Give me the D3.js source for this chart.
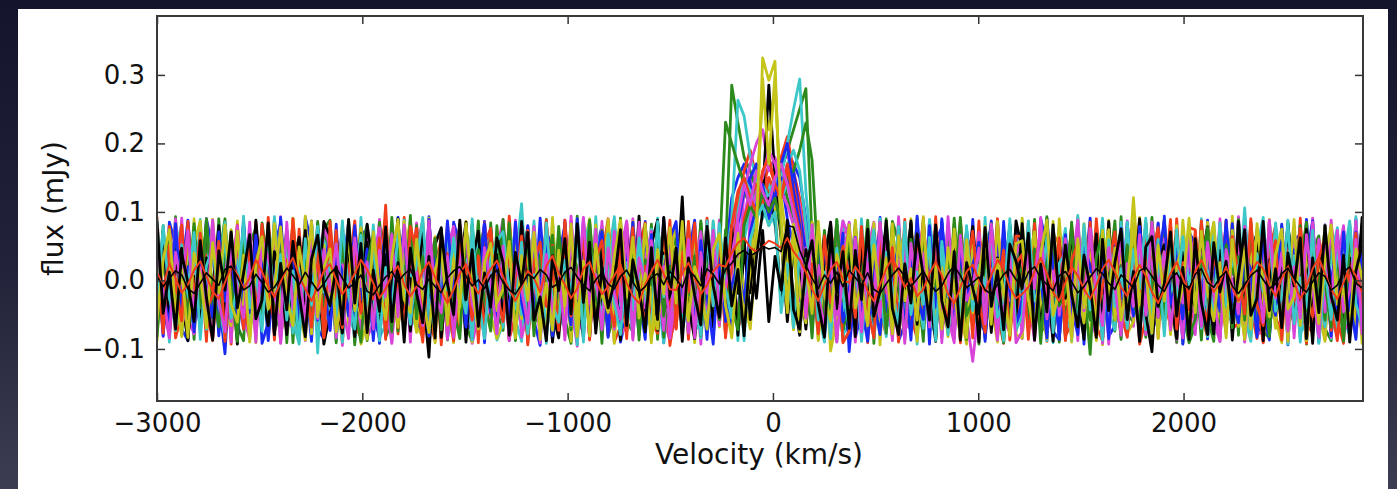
<!DOCTYPE html>
<html>
<head>
<meta charset="utf-8">
<script src="https://cdn.jsdelivr.net/npm/d3@7"></script>
<style>
  html, body { margin: 0; padding: 0; background: #1b1b33; overflow: hidden; }
  svg { display: block; }
</style>
</head>
<body>
<svg id="chart" width="1397" height="489"></svg>
<script>
// Channel grid of the spectra (km/s)
const velocityStart = -3000;
const channelWidth = 30.1;

const xTicks = [-3000, -2000, -1000, 0, 1000, 2000];
const yTicks = [-0.1, 0.0, 0.1, 0.2, 0.3];

// Flux per channel, in µJy (196 channels each, 28 per row)
const fluxB1 = [
45,-32,71,-58,12,88,-14,-67,23,54,-81,6,39,-45,82,-19,-73,30,61,-8,-52,17,76,-36,4,-89,58,-21,
63,-47,9,85,-62,28,-5,-78,44,15,-33,92,-56,21,-11,67,-84,38,3,-41,74,-27,51,-69,11,86,-38,-2,
57,-74,33,-16,79,-49,8,41,-88,26,64,-12,-55,90,-31,18,-63,47,-7,72,-44,13,-79,59,-24,36,-91,68,
-40,28,73,-51,16,-86,44,-22,35,120,150,170,140,120,130,110,140,160,190,170,150,90,40,-18,62,-47,81,-9,
-15,82,-53,29,-70,6,48,-36,77,-9,-61,94,-27,19,55,-83,37,-4,66,-46,25,-72,10,87,-35,50,-58,3,
54,-66,22,-39,91,-13,-75,47,8,-58,69,-30,14,-87,39,-6,76,-49,25,-64,58,-17,84,-42,7,-71,33,65,
-28,49,-85,18,70,-37,2,-60,93,-24,41,-77,11,56,-46,80,-19,-68,34,87,-53,21,-8,67,-82,29,-35,74];

const fluxG1 = [
-23,61,-77,35,8,-49,83,-14,52,-66,27,90,-38,-5,71,-57,19,43,-84,31,-12,64,-29,-73,56,3,-45,78,
26,-91,47,-8,68,-33,15,-60,85,-22,39,-74,50,11,-43,76,-18,62,-87,24,-3,58,-36,81,-53,9,44,-69,
37,-15,-62,89,-28,53,-80,18,66,-41,5,-72,94,-34,29,-56,73,-10,48,-83,22,-47,60,13,-65,86,-20,-39,
42,-63,20,-37,84,-11,-56,31,40,285,230,180,160,130,150,120,140,160,190,220,250,280,60,-42,73,-26,51,-88,
74,-44,6,-78,57,21,-52,83,-31,40,-67,12,-89,65,-7,36,-58,91,-25,-70,49,16,-85,55,-2,-48,79,-30,
-19,70,-45,8,93,-61,27,-84,45,-14,59,-32,76,-50,3,87,-68,34,-9,-76,52,25,-54,68,-22,-90,41,14,
66,-27,-81,48,-4,32,-59,89,-46,21,-71,57,-13,-38,80,-63,10,46,-93,28,-17,72,-40,35,-64,19,-7,53];

const fluxR1 = [
12,-58,79,-26,43,-71,5,67,-39,-88,24,56,-15,81,-48,30,-6,-64,92,-33,18,-77,49,27,-53,70,-11,-42,
86,-20,-60,37,-3,75,-47,10,-83,52,33,-69,16,62,-25,-90,45,7,-56,83,-36,29,-12,68,-79,40,-51,22,
-66,94,-30,15,-49,63,-8,-37,51,-74,88,-21,-2,46,73,-43,26,-81,11,-59,84,-16,38,-70,57,-28,9,-95,
-35,58,-9,71,-52,20,-78,39,-17,28,110,160,190,150,130,170,140,180,210,160,120,60,-24,47,-69,15,82,-38,
50,-13,32,-87,69,-41,24,-54,78,-7,-63,19,85,-32,44,-75,61,-18,-50,35,-84,67,4,-27,90,-46,13,-61,
17,-64,83,-41,6,-22,55,-88,31,-5,72,-47,90,-19,60,-36,-73,25,49,-10,-57,38,77,-29,-66,14,51,-83,
-4,43,-70,28,-31,86,-55,9,62,-40,-85,34,-16,74,-28,19,-61,50,-92,67,-14,-49,81,2,-33,58,-75,26];

const fluxC1 = [
-52,27,64,-18,-79,41,9,73,-35,-60,17,85,-44,30,-8,-71,53,22,-47,90,-26,46,-63,11,-38,69,-106,58,
34,-82,15,60,-29,-5,77,-56,39,-13,-73,88,-40,24,62,-20,-87,45,-2,71,-50,19,-66,83,-31,8,56,-77,
81,-45,28,112,-37,-64,16,50,-86,37,-11,70,-52,3,-34,66,-78,29,93,-23,-59,44,7,-48,75,-18,-91,36,
55,-28,-71,39,10,-47,87,-13,24,90,263,240,180,150,120,140,110,150,200,250,294,130,30,-58,21,66,-35,-80,
-62,20,55,-30,-84,47,12,-26,79,-57,33,-3,-70,86,21,-43,64,-15,-80,38,57,-11,-74,49,25,-53,82,-6,
-21,67,-39,4,-88,52,31,76,-54,12,-68,41,-7,91,-45,23,-83,61,-16,48,-72,85,-37,-1,59,-62,26,-43,
39,-76,18,84,-50,-12,63,-33,8,-65,47,92,-27,-58,70,-41,30,-85,15,54,-19,-68,36,77,-44,-9,61,-30];

const fluxM1 = [
71,-36,-84,22,58,-47,13,-69,90,-24,37,-58,6,80,-41,27,-77,63,-10,44,-92,15,58,-32,-70,86,-19,40,
-55,11,74,-43,29,-81,62,-7,-36,53,-90,20,67,-25,84,-49,9,-64,36,-14,79,-58,25,-83,48,3,-40,69,
23,-60,88,-20,-45,70,-9,44,-79,27,61,-33,-96,52,-12,75,-50,18,-71,40,87,-26,-63,31,72,-48,10,-85,
-16,81,-57,26,-93,49,14,65,-31,-52,10,130,170,200,220,160,180,140,170,150,110,50,-38,74,-15,-60,33,87,
60,-17,-73,46,85,-39,-2,-88,55,-21,34,-62,79,-13,48,-91,66,-27,11,-54,-118,-35,20,-68,57,-4,-78,42,
33,-72,5,58,-26,-84,71,-45,19,88,-61,37,-8,-77,52,-23,66,-40,-5,83,-12,29,-54,61,-19,-86,45,12,
-79,46,-11,-67,90,-34,24,57,-88,30,-6,73,-52,16,-30,61,-74,39,-17,85,-46,8,-62,27,80,-39,-23,54];

const fluxY1 = [
-44,19,66,-73,35,-8,52,87,-29,-61,40,-16,74,-50,26,-85,58,3,-37,69,-22,-64,91,-12,47,-78,30,-3,
58,-25,-89,42,-6,77,-34,13,-70,55,29,-53,86,-19,-76,38,-4,64,-42,17,-91,50,-28,73,-59,21,-11,66,
-37,82,-14,-56,27,61,-80,35,-3,-48,79,-66,18,43,90,-31,-72,54,-20,9,-58,76,-45,24,-87,60,-10,38,
80,-18,-47,63,-35,7,-77,26,54,-62,31,-20,48,90,120,80,110,-36,58,-71,22,-49,85,-14,43,-103,-57,16,
12,-65,49,-29,84,-52,21,-74,36,67,-15,-43,93,-60,28,-9,-82,57,-26,71,-47,5,63,-34,-90,41,18,-69,
-53,29,71,-40,-85,46,10,62,-27,-69,83,-11,35,-94,44,-58,19,-20,121,-7,61,-82,37,-22,54,-63,88,-16,
23,-47,85,-19,-61,39,70,-34,-80,16,52,-44,27,-12,67,-89,41,-25,41,-53,8,74,-38,-66,30,59,-21,-79];

const fluxK1 = [
38,-70,14,59,-27,-88,46,-9,81,-43,20,-64,67,-31,5,-52,88,-17,42,-79,24,61,-36,-8,73,-55,17,-93,
-47,64,-21,35,-82,10,56,-68,27,90,-39,-5,48,-74,33,-15,-112,52,77,-30,-59,19,85,-46,-2,68,-24,41,
72,-33,-58,86,-12,29,-66,47,-90,15,-41,63,-7,-84,55,30,-49,78,-26,-63,12,-38,94,-55,21,-73,40,-17,
-25,122,-64,40,-11,67,-49,9,-33,55,-80,44,-18,90,120,285,150,60,-60,48,19,-71,36,-9,63,-44,82,-27,
-81,25,43,-62,70,-35,-6,58,-47,11,84,-72,36,-20,-89,66,-14,45,-53,8,79,-29,50,-76,31,-3,-65,87,
44,-16,-78,27,61,-52,3,-37,74,-25,-86,50,13,-61,86,-42,20,-69,35,-10,57,-83,16,49,-31,72,-56,-4,
-60,31,78,-45,-18,64,-87,22,-53,40,69,-28,-75,11,-36,83,-7,-58,26,-92,47,14,-70,59,-13,37,-49,92];

const fluxB2 = [
29,-81,50,-12,-66,84,-38,17,-55,73,-27,-107,45,8,-71,62,-19,36,-88,21,55,-44,80,-33,-2,67,-58,12,
70,-39,-6,83,-60,25,-17,51,-92,38,-48,14,77,-29,6,-64,89,-23,41,-76,30,-12,56,-85,63,-40,19,-53,
-31,48,-75,10,62,-44,91,-20,-58,33,81,-35,4,-70,58,-16,27,-83,66,-49,-8,85,-27,-61,44,9,-77,39,
14,-73,36,88,-54,-9,61,-42,20,-67,80,130,150,170,120,100,130,150,140,160,100,40,-31,57,-81,23,-14,69,
-104,-6,-48,71,-30,-79,24,66,-42,13,-87,55,-21,38,-64,90,-33,18,-57,74,-11,42,-89,27,60,-45,5,-68,
-34,35,-57,79,-19,46,-86,27,62,-40,-4,91,-63,17,-28,53,-72,84,-11,-47,30,73,-36,8,-59,44,-93,21,
48,-24,66,-71,12,-39,83,-56,30,-10,75,-48,-87,59,24,-66,45,-30,89,-18,-52,36,-81,62,-5,-44,70,-28];

const fluxG2 = [
-67,42,-19,77,-50,8,63,-33,90,-58,26,-81,39,-4,55,-26,-69,84,17,-43,70,-91,31,-14,52,-62,86,-37,
21,-76,58,-35,4,69,-88,43,-18,-61,92,-27,35,-53,80,-40,12,-74,57,-9,26,64,-50,-22,87,-68,15,-31,
89,-14,-52,31,-86,60,-23,7,49,-71,16,-38,82,-64,-5,37,-92,68,-29,53,-76,22,-44,79,-17,61,-83,4,
61,-45,17,-83,48,-2,-60,34,231,200,170,140,120,130,110,120,140,130,150,160,190,230,176,20,-55,81,-29,-72,
-38,75,-9,-64,27,-47,90,-21,56,-80,40,-13,-58,73,11,-35,81,-52,29,-86,46,-70,18,64,-26,-91,37,53,
-18,70,-43,13,-77,54,29,-62,85,-30,-7,-108,39,60,37,-56,22,-81,73,-15,-40,92,-24,-66,41,8,-52,75,
30,-87,52,-25,66,-11,-69,43,16,-76,59,-38,34,-48,71,-32,-63,25,85,-46,10,-58,77,-21,-83,49,-7,38];

const fluxR2 = [
53,-29,-74,16,81,-46,4,-62,37,-13,70,-89,24,59,-35,-78,47,10,-57,88,-20,31,-66,75,-41,-8,63,-84,
-26,68,-52,13,87,-37,-70,45,-22,110,-80,32,-59,18,76,-43,-5,61,-94,39,-16,-73,50,26,-60,84,-34,7,
42,-88,19,-46,73,-3,-58,86,-31,-69,48,11,-77,64,-19,-52,33,90,-41,20,-85,57,-12,-65,38,-30,79,-48,
19,-50,86,-27,-63,41,-11,70,-84,32,-15,90,120,140,110,150,130,120,160,140,90,-23,58,-72,14,-39,66,-91,
-74,16,61,-33,-7,84,-56,28,-90,45,-18,67,-40,-2,52,-70,12,-47,88,-25,35,-61,74,-9,-83,40,-28,65,
64,-35,-80,22,51,-67,36,-9,78,-56,-21,43,-85,11,67,-30,-74,55,-13,89,-46,-3,32,-69,81,-24,47,-58,
-45,87,-16,-60,30,71,-38,12,-64,54,-27,-91,43,80,-55,21,-36,68,-82,4,59,26,-73,39,-17,63,-52,18];

const fluxC2 = [
88,-41,7,-73,52,-25,33,-57,14,79,-36,-84,61,-10,40,-68,25,-3,-50,93,-29,65,-77,18,-45,84,-15,-62,
-34,53,-90,27,-12,66,-48,81,-23,-57,35,72,-64,9,-30,58,-81,44,-6,-73,62,-19,31,-87,70,-40,12,55,
-68,25,73,-50,-18,87,-31,4,-76,60,-43,29,-94,47,83,-26,-59,16,70,-37,-11,-80,49,-22,67,-56,35,-7,
-52,38,-15,69,-84,26,58,-37,12,-48,100,150,130,110,140,120,150,130,170,190,160,80,-10,-61,43,-26,88,-44,
27,-60,90,-38,55,-19,-82,46,11,-53,74,-28,-66,89,-14,42,-79,23,-48,63,-35,8,-71,57,-30,-88,76,-20,
71,-9,-66,34,-41,80,-24,57,-87,19,-52,66,4,-73,-20,48,-61,85,-33,-2,39,-78,60,-14,-47,74,-28,51,
-15,59,-82,43,-5,-63,33,-28,106,-39,-67,22,-48,84,10,-57,36,-90,53,-21,-44,64,-11,-76,29,87,-35,-60];

const fluxM2 = [
-12,66,-45,90,-33,-71,28,54,-18,-83,41,9,-60,75,-27,85,-52,13,-38,67,-91,20,48,-74,36,-15,-56,81,
47,-84,23,-8,64,-41,-69,35,77,-26,-92,50,-3,61,-47,16,70,-63,31,-86,8,82,-22,-58,43,-77,27,-6,
-59,30,-12,78,-47,19,-86,63,-34,5,-70,88,-21,42,-80,56,-9,-45,72,-31,14,-64,85,-40,26,-2,-73,57,
-31,54,-77,8,71,-42,25,-66,39,-21,86,-55,90,130,150,190,170,130,110,80,-30,47,-68,22,-14,79,-50,33,
85,-27,-63,40,12,-54,69,-16,-79,52,-37,23,81,-48,6,-71,93,-24,-58,34,-13,70,-43,17,-87,61,-29,38,
62,-19,-88,45,-26,73,-51,18,-64,81,-38,-7,56,-92,40,-15,67,-76,28,-49,85,-33,10,-59,74,-21,-84,49,
-73,41,9,-56,83,-17,-40,65,-90,28,-11,52,-67,19,-38,74,-84,47,3,-29,60,-46,88,-25,-62,35,11,-78];

const fluxY2 = [
76,-53,30,-19,-82,61,-7,43,-66,89,-24,15,-48,72,-36,4,-77,56,-29,83,-58,11,67,-42,-87,38,-16,52,
-21,45,-70,88,-13,-55,31,-80,60,-35,17,-68,46,84,-9,-52,28,-91,64,-18,39,-62,79,-31,6,-76,57,-44,
33,-67,58,-4,-39,76,-86,21,-14,67,-57,35,-82,10,71,-42,-19,89,-63,44,-27,16,-50,82,-35,-71,23,62,
41,-18,-59,77,-36,24,-83,55,-6,-44,69,-27,-71,50,325,292,320,60,-47,82,-15,-62,35,-88,19,57,-30,8,
-48,88,-25,-73,49,6,-61,83,-30,-12,58,-89,27,44,-67,19,-46,75,-20,-84,51,38,-8,-64,86,-33,13,-79,
-84,27,66,-49,12,-73,90,-35,58,-17,-62,40,-88,26,74,-56,9,-31,83,-42,-7,61,-27,45,-79,20,54,-68,
17,-61,42,85,-28,-50,73,-12,-86,31,64,-45,8,-70,53,-23,89,-66,37,-9,-54,80,-37,14,-48,70,-83,29];

const fluxK2 = [
-30,72,-58,19,47,-85,6,-64,33,-20,80,-51,26,-93,58,-38,71,-14,-66,42,11,-79,24,63,-48,7,-31,86,
64,-29,-77,49,-8,-45,82,20,-61,37,-16,90,-72,3,-43,76,-25,57,-83,12,-35,49,-90,28,72,-57,-12,38,
-55,16,-40,81,-69,30,-3,66,-47,-84,24,59,-26,71,-10,-63,45,-36,21,-87,65,3,-34,-70,52,88,-45,-21,
-7,59,-36,-85,22,47,-68,29,-42,80,-19,62,-57,34,100,120,90,-33,71,-24,-80,45,-9,-63,28,85,-41,15,
40,-82,67,-15,-46,28,74,-53,9,-31,87,-64,35,-19,77,-48,-2,-75,56,-28,18,-90,63,-40,33,-12,81,-55,
83,-44,24,-67,10,-89,56,-26,73,-55,32,-11,68,-81,37,-6,-72,49,-30,90,-49,-104,34,52,-25,-85,41,-14,
-39,66,-13,-78,44,21,-59,86,-32,-9,57,-88,30,-47,12,69,-53,-18,75,-40,28,44,-50,-27,-67,33,-4,79];

const fluxB3 = [
51,-17,-66,83,-42,20,-75,36,-9,-54,71,-30,58,-85,14,-47,66,-21,39,-70,92,-26,45,-60,10,-37,75,-5,
-73,37,12,-52,80,-28,46,-88,21,64,-43,-6,73,-62,30,-16,-81,55,-39,87,-24,6,-68,41,-19,83,-47,22,
18,-56,85,-33,-74,44,-12,59,-81,27,-3,-65,90,-37,-52,24,71,-40,-8,-77,49,33,-24,-86,67,-48,15,60,
86,-40,20,-65,58,-22,-93,43,-60,-8,25,-34,70,110,140,90,120,170,200,130,80,-44,19,-73,53,-15,37,-61,
-20,63,-37,-89,32,71,-46,4,52,-70,38,-24,-57,80,-39,85,-13,-60,45,-31,23,56,-82,9,-43,74,-16,-67,
-28,75,-50,7,-84,39,-15,67,-41,-79,50,22,-61,34,-85,60,-26,13,-52,79,-8,-69,28,88,-35,-3,-56,70,
54,-13,-70,30,-45,88,-24,-62,41,15,-83,66,-20,-51,82,-36,-5,61,-77,25,-90,40,8,-57,71,-29,-86,46];

const fluxG3 = [
-82,34,61,-27,9,-53,77,-40,85,-15,-68,46,-3,-89,62,-33,20,-59,81,-45,16,73,-22,-80,38,-64,27,-11,
43,-8,-61,76,-39,-90,24,67,-47,10,-75,53,-28,88,-56,35,-19,61,-72,7,-42,-85,62,-7,45,-31,-74,80,
-25,84,-48,13,56,-81,37,-10,-66,79,-31,48,17,-55,88,-24,-70,42,-12,66,-39,55,-87,30,-6,73,-52,21,
-48,71,-23,36,-80,14,64,-57,27,-39,-72,80,110,90,130,100,120,80,-21,55,-66,32,-84,70,-13,-47,89,-30,
67,-35,-14,88,-58,40,-77,29,-9,-86,60,-25,69,-44,7,-67,34,-18,92,-51,-28,48,-72,83,-35,17,-60,4,
19,-63,46,-92,28,63,-37,-16,80,-49,21,-58,34,71,-44,10,-86,52,-27,-65,84,-21,41,-54,76,-38,6,-80,
-57,23,77,-40,-71,52,9,35,-58,86,-26,12,-82,47,-64,29,-17,80,-45,61,-33,-4,-68,44,-89,58,15,-36];

const fluxR3 = [
24,-77,52,-8,-59,86,-30,69,-43,-22,57,-85,33,4,-71,48,-38,82,-14,-62,29,-47,90,-25,12,-68,40,-83,
78,-31,-69,18,55,-48,-4,-27,62,-86,45,-12,-61,79,40,-79,22,-5,68,-34,-88,53,14,-58,36,-81,71,-19,
-60,41,-10,65,-92,27,56,-38,17,-73,84,-52,-1,63,-83,30,58,-26,-67,49,-15,77,-45,21,-72,35,-9,88,
-69,42,-17,84,-48,11,-36,57,-26,80,130,150,120,100,160,180,140,120,170,110,70,-52,24,-78,65,-33,-7,50,
9,-54,79,-41,-84,63,-18,48,-70,24,-2,-56,90,-34,66,-20,-63,37,-91,14,72,-29,-76,53,-12,44,-87,25,
38,-86,17,73,-40,-15,62,-79,29,54,-33,85,-57,-8,20,71,-48,-83,36,-22,59,-64,47,-10,89,-71,26,-43,
72,-25,-61,39,-11,-77,64,7,-49,90,-35,-66,22,58,-87,43,-30,76,-19,-53,32,61,-40,-88,27,-2,69,-56];

const fluxC3 = [
-41,80,-26,-63,35,-12,70,-86,21,48,-30,67,-55,-9,83,-40,12,-74,55,-23,38,-58,14,-89,61,-36,79,-17,
28,-57,87,-20,-71,44,-33,58,-88,19,-45,73,-6,-64,25,92,-37,-67,40,-14,60,-8,-48,75,-29,-85,33,57,
71,-14,-42,56,-78,8,-52,84,-36,-61,30,-19,75,-90,46,-5,-55,68,-31,-79,26,-43,62,-16,-71,86,-24,11,
15,-62,48,-25,-79,66,-37,83,-11,-55,30,-88,60,90,110,80,100,-47,24,-69,41,-30,75,-58,12,-85,47,-21,
-66,33,-89,18,74,-27,41,-13,-67,85,-50,12,-35,63,-88,57,-22,30,-61,80,-44,22,-9,67,-54,-31,90,-73,
-52,87,-30,-9,63,-76,25,40,-19,-64,82,-43,6,-87,59,-38,17,-70,45,-12,91,-56,29,-81,50,-24,64,-6,
33,-70,13,-48,84,-35,-60,21,55,-82,39,-16,70,-45,-26,88,-63,4,-40,73,-92,18,-57,49,-20,83,-34,-66];

const fluxM3 = [
64,-23,-80,41,-7,73,-48,19,-62,88,-31,-75,50,-14,-55,26,-90,61,33,-18,-69,85,-42,6,-57,72,-28,45,
-16,53,-36,-85,62,-9,27,-71,44,-24,68,-53,81,-40,12,-66,87,-20,-47,35,-83,24,70,-35,-61,48,-4,-78,
50,-88,31,-14,-63,79,-28,38,-50,17,-81,63,-26,92,-34,9,-72,47,-19,-57,74,-87,33,-3,58,-44,21,-65,
27,-46,60,-84,41,-19,73,-42,-8,35,90,140,110,160,130,110,150,170,140,100,60,-55,81,-24,-66,39,-90,16,
-35,62,-75,26,-43,85,-10,-59,31,-92,54,-17,40,-68,79,-46,13,-83,66,-29,-8,47,-63,82,-21,-50,36,-91,
-74,39,-12,88,-56,14,-29,61,-85,33,-44,76,-20,-66,48,-9,-80,25,-38,67,-51,85,-17,42,-72,9,-33,70,
30,-67,56,-22,-89,45,-5,-49,79,-36,12,-61,88,-26,41,-74,20,-55,67,-12,-83,52,-30,73,-46,-15,60,-71];

const fluxY3 = [
-58,31,74,-47,16,-83,40,8,-69,55,-18,81,-35,-61,37,-90,23,64,-42,-11,78,-25,-66,49,-8,86,-53,19,
46,-75,-20,63,-44,27,-86,71,-12,-57,34,89,-28,-47,60,-23,-76,15,50,-65,32,-39,83,-15,-71,26,54,-33,
-13,57,-84,36,-29,70,-52,-4,-73,44,-37,82,-60,28,-81,53,-18,-47,35,88,-25,63,-55,10,-91,45,-20,77,
-33,86,-57,20,-10,-71,45,68,-37,-82,29,-55,14,80,295,170,300,90,-32,61,-75,23,-48,86,-19,-60,38,-4,
81,-40,-3,-66,52,-22,33,-78,65,-30,17,-58,90,-45,22,-71,48,-10,-85,59,-27,8,70,-52,31,-14,-80,54,
58,-29,-74,40,88,-51,-17,35,-86,61,-40,9,-64,73,-22,47,-58,-3,84,-36,14,-77,52,-30,67,-46,-10,91,
-47,72,-18,-59,26,-84,60,-31,49,-71,83,-7,-53,38,75,-42,-24,57,-88,11,-63,29,81,-35,-12,-70,46,3];

const fluxK3 = [
85,-48,12,-71,39,-3,-60,58,-25,-87,43,-14,71,-40,10,67,-56,-29,84,-78,25,-43,57,-20,-82,31,66,-9,
-37,20,-64,89,-33,54,-76,15,-45,78,-60,26,-90,47,-18,-62,35,-84,72,-5,-50,88,-28,45,-67,11,-39,62,
26,-80,41,-6,70,-58,-24,-88,36,-15,61,-49,83,-32,56,-77,19,-40,-2,74,-66,30,-13,-75,48,-57,92,-21,
47,-89,33,-22,-65,79,-8,-54,62,-37,16,-81,45,-26,73,-60,35,-14,88,-43,-71,20,58,-34,-83,67,-18,42,
-70,44,-28,75,-52,-16,87,-41,-79,24,-33,68,7,-58,81,-30,-68,42,-87,26,-11,-49,77,-38,14,-72,53,28,
-12,69,-87,24,-46,81,-30,52,-20,-68,37,-9,-83,60,-44,26,75,-57,13,-89,49,64,-38,-5,71,-52,19,-86,
61,-33,-79,55,-17,28,-62,9,74,-51,-26,86,-44,17,-69,40,-8,62,-85,33,-47,80,-23,-58,37,-90,14,50];

const fluxB4 = [
78,-64,85,52,-71,-88,59,-73,90,46,-66,81,-53,-69,87,-58,74,-92,-61,50,83,-77,48,-65,92,54,-70,-86,
-55,82,-68,41,-90,73,66,-49,-84,57,-62,89,-75,44,-58,-81,93,-47,70,-63,85,52,-79,-56,68,-91,77,-44,
63,-87,52,-74,80,-59,-95,71,48,-66,88,-53,-77,60,-85,42,79,-68,56,-90,-49,73,-61,86,-72,-45,91,-57,
-58,74,-81,66,-47,88,-70,52,-35,44,-62,80,120,100,140,110,130,150,90,50,-28,71,-55,39,-86,62,-44,83,
67,-83,-49,75,-60,92,-71,54,-88,-64,81,-46,69,-93,58,77,-52,-84,63,-70,89,-57,-76,45,-67,86,-48,72,
-80,56,-69,90,51,-74,-87,62,-45,79,-93,68,-58,47,-82,-66,84,-50,73,-89,61,-44,-71,94,-63,55,-85,70,
49,-72,88,-57,-83,64,-46,91,-68,53,-79,-61,86,-50,74,-94,59,67,-77,42,-86,81,-53,-65,76,-48,90,-60];

const fluxG4 = [
-61,80,-47,93,-72,55,-86,68,-53,-79,90,-44,71,-65,-88,52,77,-58,84,-49,-73,66,-91,58,-62,87,-54,75,
88,-52,-76,63,-94,47,81,-69,56,-83,-60,72,-48,95,-66,53,-80,-57,69,-87,41,78,-64,-90,59,-71,84,-45,
-73,59,-88,46,76,-62,-51,89,-78,64,-56,-92,70,-43,85,-67,54,-81,-49,91,-60,-75,68,-53,82,-86,47,-69,
56,-79,63,-48,87,-70,52,-65,74,-58,90,130,110,150,120,100,140,160,120,90,40,-66,83,-51,-77,61,-89,48,
-84,67,-55,78,-92,44,-69,86,57,-73,-48,91,-62,75,-87,50,-58,82,-71,-46,68,-93,59,74,-65,52,-80,63,
71,-46,89,-63,-78,55,-90,64,-52,83,-67,-44,79,-86,58,-74,93,-49,-61,70,-83,46,-57,88,-72,61,-47,-91,
-66,84,-53,-89,72,-45,63,-80,91,-58,47,-75,-84,60,-69,86,-51,77,-92,43,65,-70,-88,55,-62,81,-56,74];

const fluxR4 = [
92,-57,68,-84,-50,75,-66,43,-89,80,-61,57,-93,71,-48,-76,85,-64,52,-87,69,-45,90,-72,-54,63,-81,47,
-47,73,-90,58,-66,-83,54,-71,87,-59,45,-78,92,-63,50,86,-55,-88,67,-42,-74,81,-69,60,-91,53,76,-58,
61,-85,-53,77,-94,65,-48,88,-70,-56,82,-64,-46,79,-87,62,-52,74,-90,-67,56,-83,48,84,-61,-77,69,-44,
-71,49,-86,70,-58,91,-45,66,-82,57,-69,-48,70,110,150,130,90,120,160,100,60,-56,84,-73,47,-88,62,-51,
83,-60,54,-91,76,-47,-79,62,-68,89,-52,-85,71,-57,93,-44,-73,66,-86,50,-62,87,-75,58,-49,-92,79,-65,
-58,86,-74,45,-89,68,53,-81,-63,92,-50,76,-67,-88,55,-46,81,-72,64,-93,-57,71,-84,49,-66,90,-53,77,
74,-49,-83,66,-55,88,-71,-62,85,-47,59,-90,72,-53,-80,67,-44,91,-65,-76,53,-86,70,-58,-92,61,-48,83];

const fluxC4 = [
-76,58,-90,47,82,-63,-54,89,-71,66,-45,-87,73,-59,94,-52,-68,80,-47,61,-85,72,-57,-93,68,-46,84,-62,
55,-88,71,-49,-77,92,-60,46,-83,-65,79,-53,88,-70,-48,63,-91,57,75,-84,-52,69,-66,90,-45,-78,58,-87,
-64,81,-57,-89,73,-46,60,-92,85,-51,-70,67,-83,54,-75,93,-48,-62,78,-86,59,-44,81,-67,-55,91,-73,50,
68,-52,85,-74,-61,87,-49,59,-77,64,-88,60,100,130,90,110,80,120,140,100,50,-63,78,-45,-90,56,-69,86,
-49,76,-82,53,-67,90,-58,-71,84,-46,62,-93,70,-55,-80,88,-63,47,-86,74,-51,-68,92,-57,66,-89,43,-75,
87,-66,49,-80,58,-91,72,-53,-75,95,-60,44,-84,69,-47,-72,85,-56,63,-88,77,-61,-49,82,-70,53,-92,64,
-58,90,-73,61,-86,47,-64,79,-52,-89,68,-57,83,-45,71,-93,56,-77,-62,89,-48,74,-85,60,-54,-81,93,-67];

const fluxM4 = [
60,-82,47,-69,91,-56,-78,73,-45,88,-64,52,-90,67,-53,-86,79,-48,64,-77,93,-59,-70,55,-88,71,-46,82,
-73,58,-95,77,-50,66,-84,-61,89,-47,72,-68,55,-90,81,-57,-74,62,-85,48,79,-66,57,-92,-53,86,-71,44,
89,-64,56,-83,-48,75,-91,60,-70,52,-87,94,-58,-76,68,-45,86,-62,53,-79,-67,90,-49,71,-84,63,-56,-88,
-51,77,-66,43,-86,62,-73,88,-59,70,110,90,140,170,130,150,120,160,190,130,90,40,-77,54,-62,85,-49,69,
72,-90,59,-55,81,-68,46,-84,93,-61,-72,57,-48,86,-79,65,-53,-91,74,-45,68,-83,52,-66,89,-58,-76,61,
-85,63,-47,92,-70,-56,78,-64,51,-88,71,-53,-82,60,-93,75,-44,87,-67,56,-79,-62,83,-50,69,-91,48,-73,
54,-77,84,-60,-89,69,-51,93,-66,47,-80,-72,88,-55,62,-85,79,-48,-69,91,-57,66,-83,45,-74,-61,87,-52];

const fluxY4 = [
-88,66,-53,79,-72,-47,90,-61,58,-84,73,-50,-66,87,-59,45,-91,70,-56,83,-75,-48,62,-86,94,-57,68,-44,
75,-49,83,-66,52,-93,-60,71,-87,64,-46,89,-73,55,-68,-82,91,-54,67,-79,48,-62,86,-90,57,73,-51,-85,
-59,88,-71,54,-83,61,-47,-76,92,-64,50,-89,78,-56,-44,81,-69,63,-92,47,-74,86,-58,69,-81,-53,76,-67,
62,-78,49,-91,74,-57,85,-68,53,-84,67,-49,40,130,270,220,280,120,50,-72,88,-60,45,-86,71,-55,-79,64,
-66,85,-52,-80,69,-94,58,-47,77,-63,90,-56,-71,48,-87,72,-61,84,-45,-93,66,-54,79,-70,51,-88,62,-76,
91,-58,67,-73,-49,86,-64,53,-90,75,-47,-82,63,-69,88,-55,44,-78,-60,92,-66,57,-85,72,-53,80,-91,46,
-70,52,-86,77,-61,-48,94,-67,59,-83,45,-72,89,-56,-91,68,-50,76,-64,83,-47,-89,71,-58,64,-74,55,-92];

// Smoothed spectra drawn over the individual ones (µJy)
const fluxRedMean = [
12,-8,25,3,-18,-6,15,28,6,-16,-27,-3,20,9,-12,4,30,13,-9,-24,-2,17,33,7,-13,-30,-9,14,
24,1,-20,-7,10,30,16,-4,-26,-12,8,21,-6,-23,-9,14,27,4,-16,-33,-13,10,24,-3,-19,1,17,29,
6,-13,-30,-10,14,3,-17,21,36,10,-6,-26,-12,17,27,1,-20,-9,7,23,-4,-23,-33,-6,13,30,10,-13,
-14,10,26,4,-20,-7,13,23,20,40,55,62,48,42,50,58,54,47,62,42,30,12,-13,-30,-7,16,27,0,
-3,20,7,-16,-30,-6,17,33,13,-10,3,-23,-13,10,27,7,-20,-33,-10,13,23,0,-16,7,30,17,-10,-26,
-20,-10,13,33,10,-17,-30,-3,20,7,-13,-27,-7,17,30,13,-10,-23,3,23,7,-17,-33,-13,10,27,3,-20,
13,30,7,-17,-3,20,-10,-30,-13,10,27,17,-7,-23,3,20,-3,-27,-10,17,33,10,-13,-27,-3,20,7,-17];

const fluxBlackMean = [
6,-9,3,14,8,-12,-19,-4,11,2,-7,16,21,5,-14,-8,9,-3,-17,-10,4,18,7,-6,12,-2,-15,-5,
10,19,3,-11,-4,8,-16,-21,-7,5,13,-2,9,17,-6,-13,2,-9,-18,4,14,20,6,-8,1,-12,7,15,
-3,-14,-20,-6,9,3,16,8,-10,-4,12,19,5,-7,-15,1,11,-5,-12,6,15,-2,-17,-9,4,10,-6,13,
2,-10,14,6,-8,17,9,-5,16,25,38,44,36,41,50,46,48,42,80,78,44,22,3,-12,8,-4,12,-9,
15,4,-7,11,-13,-19,-5,8,18,6,-9,2,14,-4,-16,-8,10,21,7,-11,-3,5,-14,-20,-6,9,16,1,
-8,12,20,3,-6,-15,7,13,-2,-18,-9,5,17,10,-4,-13,8,-1,-11,14,19,6,-7,-16,2,11,-5,-12,
9,17,-3,-10,4,13,-8,-19,-6,7,15,1,-12,-5,10,18,3,-9,-17,-2,11,6,-14,-7,12,20,-4,-11];

// Spectra in drawing order, with their matplotlib colour codes
const spectra = [
  fluxB4, fluxG4, fluxR4, fluxC4, fluxM4, fluxY4,
  fluxB1, fluxG1, fluxR1, fluxC1, fluxM1, fluxY1, fluxK1,
  fluxB2, fluxG2, fluxR2, fluxC2, fluxM2, fluxY2, fluxK2,
  fluxB3, fluxG3, fluxR3, fluxC3, fluxM3, fluxY3, fluxK3
];
const spectrumColorCodes = [
  "b", "g", "r", "c", "m", "y",
  "b", "g", "r", "c", "m", "y", "k",
  "b", "g", "r", "c", "m", "y", "k",
  "b", "g", "r", "c", "m", "y", "k"
];
const meanSpectra = [fluxRedMean, fluxBlackMean];
const meanColorCodes = ["r", "k"];

// ---------------------------------------------------------------------------
const W = 1397, H = 489;
const plot = { left: 157, right: 1363, top: 16, bottom: 401 };
const palette = { b: "#1a2af5", g: "#2c8a1c", r: "#f23c1a", c: "#3cc8c8", m: "#d844d8", y: "#c4c41a", k: "#000000" };
const meanWidths = [2, 1.6];
const font = "'DejaVu Sans', 'Bitstream Vera Sans', Verdana, sans-serif";

const svg = d3.select("#chart");
const defs = svg.append("defs");

const bg = defs.append("linearGradient").attr("id", "slideBg")
  .attr("x1", 0).attr("y1", 0).attr("x2", 0).attr("y2", 1);
bg.append("stop").attr("offset", "0%").attr("stop-color", "#14142d");
bg.append("stop").attr("offset", "55%").attr("stop-color", "#22223a");
bg.append("stop").attr("offset", "100%").attr("stop-color", "#3c3c52");

svg.append("rect").attr("width", W).attr("height", H).attr("fill", "url(#slideBg)");
svg.append("rect").attr("x", 18).attr("y", 9).attr("width", 1370).attr("height", 480).attr("fill", "#ffffff");

defs.append("clipPath").attr("id", "plotClip").append("rect")
  .attr("x", plot.left).attr("y", plot.top)
  .attr("width", plot.right - plot.left).attr("height", plot.bottom - plot.top);

const x = d3.scaleLinear().domain([-3000, 2874]).range([plot.left, plot.right]);
const y = d3.scaleLinear().domain([-0.176, 0.386]).range([plot.bottom, plot.top]);

const line = d3.line()
  .x((d, i) => x(velocityStart + i * channelWidth))
  .y(d => y(d / 1000));

const lines = svg.append("g").attr("clip-path", "url(#plotClip)")
  .attr("fill", "none").attr("stroke-width", 2.8)
  .attr("stroke-linejoin", "round").attr("stroke-linecap", "round");

lines.selectAll("path.spec").data(spectra).join("path")
  .attr("class", "spec")
  .attr("stroke", (d, i) => palette[spectrumColorCodes[i]])
  .attr("d", line);

lines.selectAll("path.mean").data(meanSpectra).join("path")
  .attr("class", "mean")
  .attr("stroke", (d, i) => palette[meanColorCodes[i]])
  .attr("stroke-width", (d, i) => meanWidths[i])
  .attr("d", line);

// Axes: ticks point inward on all four sides
const tickLen = 8;
const fmtY = d3.format(".1f");
const fmtX = d3.format("d");

function styleAxis(g) {
  g.select(".domain").remove();
  g.selectAll(".tick line").attr("stroke", "#333").attr("stroke-width", 1.5);
  g.selectAll(".tick text").attr("fill", "#111").style("font-family", font).style("font-size", "26px");
}

svg.append("g").attr("transform", `translate(0,${plot.bottom})`)
  .call(d3.axisBottom(x).tickValues(xTicks).tickFormat(fmtX).tickSizeInner(-tickLen).tickSizeOuter(0).tickPadding(13))
  .call(styleAxis);
svg.append("g").attr("transform", `translate(0,${plot.top})`)
  .call(d3.axisTop(x).tickValues(xTicks).tickFormat("").tickSizeInner(-tickLen).tickSizeOuter(0))
  .call(styleAxis);
svg.append("g").attr("transform", `translate(${plot.left},0)`)
  .call(d3.axisLeft(y).tickValues(yTicks).tickFormat(fmtY).tickSizeInner(-tickLen).tickSizeOuter(0).tickPadding(12))
  .call(styleAxis);
svg.append("g").attr("transform", `translate(${plot.right},0)`)
  .call(d3.axisRight(y).tickValues(yTicks).tickFormat("").tickSizeInner(-tickLen).tickSizeOuter(0))
  .call(styleAxis);

svg.append("rect")
  .attr("x", plot.left).attr("y", plot.top)
  .attr("width", plot.right - plot.left).attr("height", plot.bottom - plot.top)
  .attr("fill", "none").attr("stroke", "#3a3a3a").attr("stroke-width", 2);

// Axis titles
svg.append("text")
  .attr("x", (plot.left + plot.right) / 2 - 1).attr("y", 464)
  .attr("text-anchor", "middle").attr("fill", "#111")
  .style("font-family", font).style("font-size", "28px")
  .text("Velocity (km/s)");

svg.append("text")
  .attr("transform", `translate(63,${(plot.top + plot.bottom) / 2}) rotate(-90)`)
  .attr("text-anchor", "middle").attr("fill", "#111")
  .style("font-family", font).style("font-size", "28px")
  .text("flux (mJy)");
</script>
</body>
</html>
